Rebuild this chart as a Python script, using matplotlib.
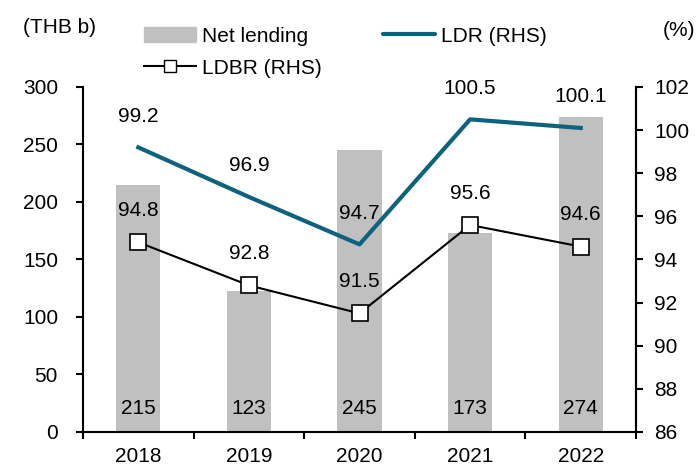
import matplotlib
matplotlib.use("Agg")
import matplotlib.pyplot as plt
from matplotlib.lines import Line2D
from matplotlib.patches import Patch

plt.rcParams['font.family'] = ['Liberation Sans', 'DejaVu Sans']

years = ["2018", "2019", "2020", "2021", "2022"]
net_lending = [215, 123, 245, 173, 274]
ldr = [99.2, 96.9, 94.7, 100.5, 100.1]
ldbr = [94.8, 92.8, 91.5, 95.6, 94.6]

FS = 15
fig = plt.figure(figsize=(6.97, 4.69), dpi=100)
ax = fig.add_axes([0.1191, 0.0789, 0.7934, 0.7356])
x = list(range(len(years)))

bar_c = "#c0c0c0"
ldr_c = "#0d627c"
ax.bar(x, net_lending, width=0.4, color=bar_c, zorder=1)
for xi, v in zip(x, net_lending):
    ax.text(xi, 20, f"{v}", ha="center", va="center", fontsize=FS)
ax.set_ylim(0, 300)
ax.set_yticks(range(0, 301, 50))
ax.set_xlim(-0.5, 4.5)
ax.set_xticks([i - 0.5 for i in range(6)])
ax.set_xticklabels([])
ax.set_xticks(x, minor=True)
ax.set_xticklabels(years, minor=True)
ax.tick_params(axis="x", which="minor", length=0, labelsize=FS, pad=11)
ax.tick_params(axis="x", which="major", length=5, width=1.5, direction="out")
ax.tick_params(axis="y", length=5, width=1.5, direction="out", labelsize=FS, pad=13)
ax.spines["top"].set_visible(False)
for s in ["left", "bottom", "right"]:
    ax.spines[s].set_linewidth(1.5)

ax2 = ax.twinx()
ax2.plot(x, ldr, color=ldr_c, lw=3.0, zorder=3)
ax2.plot(x, ldbr, color="black", lw=1.5, marker="s", markersize=12,
         markerfacecolor="white", markeredgecolor="black", markeredgewidth=1.2, zorder=4)
for xi, v in zip(x, ldr):
    ax2.annotate(f"{v:.1f}", (xi, v), xytext=(0, 22.5), textcoords="offset points",
                 ha="center", va="center", fontsize=FS)
for xi, v in zip(x, ldbr):
    ax2.annotate(f"{v:.1f}", (xi, v), xytext=(0, 23), textcoords="offset points",
                 ha="center", va="center", fontsize=FS)
ax2.set_ylim(86, 102)
ax2.set_yticks(range(86, 103, 2))
ax2.tick_params(axis="y", length=5, width=1.5, direction="out", labelsize=FS, pad=8)
ax2.spines["top"].set_visible(False)
ax2.spines["right"].set_linewidth(1.5)
ax2.spines["left"].set_visible(False)
ax2.spines["bottom"].set_visible(False)

fig.text(0.033, 0.942, "(THB b)", fontsize=FS, ha="left", va="center")
fig.text(0.997, 0.934, "(%)", fontsize=FS, ha="right", va="center")

common = dict(loc="center left", frameon=False, fontsize=FS, handlelength=2.5,
              handletextpad=0.3, borderpad=0, borderaxespad=0, handleheight=0.7)
fig.legend([Patch(color=bar_c)], ["Net lending"], bbox_to_anchor=(0.2066, 0.923), **common)
fig.legend([Line2D([], [], color=ldr_c, lw=3.0, solid_capstyle="round")], ["LDR (RHS)"],
           bbox_to_anchor=(0.5495, 0.923), **common)
fig.legend([Line2D([], [], color="black", lw=1.5, marker="s", markersize=8,
                   markerfacecolor="white", markeredgecolor="black")], ["LDBR (RHS)"],
           bbox_to_anchor=(0.2066, 0.855), **common)

fig.savefig("out.png", dpi=100)
